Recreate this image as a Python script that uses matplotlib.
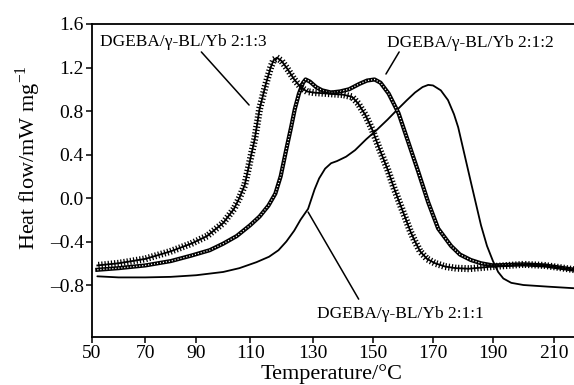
import numpy as np
import matplotlib
matplotlib.use("Agg")
import matplotlib.pyplot as plt
import matplotlib.patheffects as pe

plt.rcParams['font.family'] = ['Liberation Serif', 'DejaVu Serif']
plt.rcParams['mathtext.fontset'] = 'custom'
plt.rcParams['mathtext.rm'] = 'Liberation Serif'

# DGEBA/γ-BL/Yb 2:1:3
t_213 = [52, 60, 70, 80, 88, 94, 100, 104, 106, 108, 110, 111.5, 113, 115, 116.5, 117.5, 118.5,
         120, 122, 124, 126, 128, 130, 135, 140, 143, 145, 147.5, 149.7, 152, 154.9, 157, 159.2,
         161, 162.5, 164, 165.7, 168, 170.7, 174, 177.6, 182, 190, 200, 207, 212, 217]
v_213 = [-0.62, -0.60, -0.56, -0.49, -0.42, -0.35, -0.23, -0.10, 0.00, 0.12, 0.35, 0.55, 0.82,
         1.05, 1.20, 1.27, 1.29, 1.26, 1.18, 1.09, 1.02, 0.98, 0.97, 0.96, 0.95, 0.93, 0.87, 0.76,
         0.63, 0.46, 0.26, 0.09, -0.07, -0.20, -0.31, -0.40, -0.49, -0.56, -0.60, -0.63, -0.645,
         -0.65, -0.63, -0.61, -0.62, -0.64, -0.66]

# DGEBA/γ-BL/Yb 2:1:2
t_212 = [52, 60, 70, 75, 80, 88, 95, 100, 105, 110, 113, 115.8, 118, 119.7, 121.5, 123, 124.2,
         125.5, 126.8, 127.6, 129, 131, 133, 136, 139, 142, 145.5, 148, 150.5, 152.5, 155.2,
         158.5, 161.8, 165.1, 168.4, 171.7, 176, 179, 182.6, 186, 190, 200, 207, 212, 217]
v_212 = [-0.66, -0.645, -0.62, -0.60, -0.58, -0.53, -0.48, -0.42, -0.35, -0.25, -0.17, -0.07,
         0.04, 0.20, 0.45, 0.65, 0.82, 0.96, 1.06, 1.09, 1.07, 1.02, 0.99, 0.97, 0.98, 1.00, 1.05,
         1.08, 1.09, 1.06, 0.96, 0.78, 0.51, 0.24, -0.04, -0.28, -0.44, -0.52, -0.57, -0.60,
         -0.62, -0.61, -0.62, -0.64, -0.66]

# DGEBA/γ-BL/Yb 2:1:1
t_211 = [52, 60, 70, 80, 90, 100, 106, 112, 116, 119, 121.5, 124, 126, 128.4, 130.5, 132, 134,
         136, 138, 141, 144, 147.7, 151, 154.8, 158, 161.3, 164, 166.5, 168.4, 170, 172.6, 175,
         177, 178.4, 180.5, 182.6, 184.3, 186, 188, 190, 191.7, 193.4, 196, 200, 208, 217]
v_211 = [-0.72, -0.73, -0.73, -0.725, -0.71, -0.68, -0.645, -0.59, -0.54, -0.48, -0.40, -0.30,
         -0.20, -0.10, 0.08, 0.18, 0.27, 0.32, 0.34, 0.38, 0.44, 0.54, 0.62, 0.72, 0.81, 0.90,
         0.97, 1.02, 1.04, 1.035, 0.99, 0.90, 0.77, 0.65, 0.40, 0.15, -0.05, -0.25, -0.44, -0.58,
         -0.68, -0.74, -0.78, -0.80, -0.815, -0.83]

x_ticks = [50, 70, 90, 110, 130, 150, 170, 190, 210]
y_ticks = [-0.8, -0.4, 0.0, 0.4, 0.8, 1.2, 1.6]
y_tick_labels = ['\u20130.8', '\u20130.4', '0.0', '0.4', '0.8', '1.2', '1.6']
labels = ['DGEBA/\u03b3-BL/Yb 2:1:3', 'DGEBA/\u03b3-BL/Yb 2:1:2', 'DGEBA/\u03b3-BL/Yb 2:1:1']

# the printed temperature axis is slightly non-uniform: relative tick spacing
_knot_t = np.array([0, 50, 70, 90, 110, 130, 150, 170, 190, 210, 300], dtype=float)
_knot_p = np.array([-41.6, 91.7, 145, 196, 250, 313, 373, 433, 493, 554, 824], dtype=float)


def _fwd(t):
    return np.interp(t, _knot_t, _knot_p)


def _inv(p):
    return np.interp(p, _knot_p, _knot_t)


fig = plt.figure(figsize=(5.74, 3.85), dpi=100)
ax = fig.add_axes([92 / 574, 48 / 385, 482 / 574, 313 / 385])
ax.set_xscale('function', functions=(_fwd, _inv))

# 2:1:1 thin solid line
ax.plot(t_211, v_211, color='black', lw=1.3, solid_capstyle='round')

# 2:1:2 chain of open circles
ax.plot(t_212, v_212, color='black', lw=3.0, solid_joinstyle='round')
ax.plot(t_212, v_212, color='white', lw=0.9, linestyle=(0, (0.9, 1.5)))

# 2:1:3 crosses
ax.plot(t_213, v_213, color='black', lw=1.3, solid_joinstyle='round',
        path_effects=[pe.Normal(),
                      pe.TickedStroke(angle=90, spacing=2.3, length=0.9, linewidth=0.9),
                      pe.TickedStroke(angle=-90, spacing=2.3, length=0.9, linewidth=0.9)])

ax.set_xlim(50, 216.7)
ax.set_ylim(-1.278, 1.6)
ax.set_xticks(x_ticks)
ax.set_xticklabels([str(t) for t in x_ticks])
ax.minorticks_off()
ax.set_yticks(y_ticks)
ax.set_yticklabels(y_tick_labels)
ax.spines['right'].set_visible(False)
for s in ['left', 'bottom', 'top']:
    ax.spines[s].set_linewidth(1.3)
ax.tick_params(direction='out', length=4, width=1.1, labelsize=14, pad=2)

ax.set_xlabel('Temperature/\u00b0C', fontsize=16)
ax.xaxis.set_label_coords(0.496, -0.085)
ax.set_ylabel('Heat flow/mW mg$^{-1}$', fontsize=16)
ax.yaxis.set_label_coords(-0.102, 0.572)

fs = 12.5
line_kw = dict(arrowstyle='-', color='black', lw=1.1, shrinkA=0, shrinkB=0)
ax.text(84.9, 1.435, labels[0], fontsize=fs, ha='center', va='center')
ax.annotate('', xy=(109.6, 0.855), xytext=(91.9, 1.343), arrowprops=line_kw)
ax.text(182.3, 1.425, labels[1], fontsize=fs, ha='center', va='center')
ax.annotate('', xy=(154.3, 1.14), xytext=(158.7, 1.343), arrowprops=line_kw)
ax.text(159.0, -1.067, labels[2], fontsize=fs, ha='center', va='center')
ax.annotate('', xy=(128.4, -0.129), xytext=(145.2, -0.93), arrowprops=line_kw)

fig.savefig('out.png', dpi=100)
